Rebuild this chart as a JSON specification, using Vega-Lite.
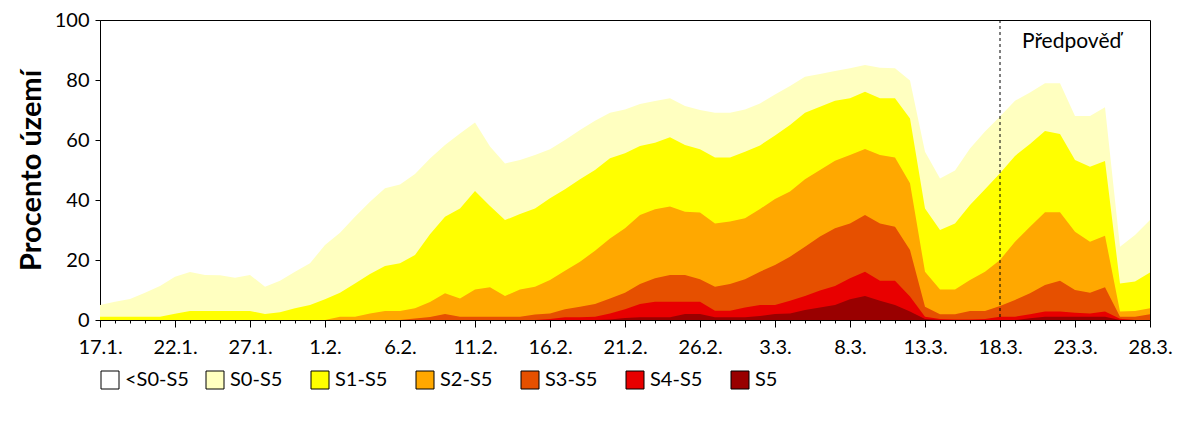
{
  "$schema": "https://vega.github.io/schema/vega-lite/v6.json",
  "autosize": "none",
  "width": 1050,
  "height": 300,
  "padding": {"left": 100, "top": 20, "right": 50, "bottom": 110},
  "background": "white",
  "config": {
    "font": "Lato",
    "view": {"stroke": "black", "strokeWidth": 1},
    "axis": {"domainColor": "black", "tickColor": "black", "labelColor": "black", "titleColor": "black", "grid": false, "labelFont": "Lato", "titleFont": "Lato"}
  },
  "layer": [
    {
      "data": {"values": [
        {"date":"2022-01-17","S0-S5":5.0,"S1-S5":1.1,"S2-S5":0,"S3-S5":0,"S4-S5":0,"S5":0},
        {"date":"2022-01-18","S0-S5":6.1,"S1-S5":1.1,"S2-S5":0,"S3-S5":0,"S4-S5":0,"S5":0},
        {"date":"2022-01-19","S0-S5":7.0,"S1-S5":1.1,"S2-S5":0,"S3-S5":0,"S4-S5":0,"S5":0},
        {"date":"2022-01-20","S0-S5":9.1,"S1-S5":1.1,"S2-S5":0,"S3-S5":0,"S4-S5":0,"S5":0},
        {"date":"2022-01-21","S0-S5":11.3,"S1-S5":1.1,"S2-S5":0,"S3-S5":0,"S4-S5":0,"S5":0},
        {"date":"2022-01-22","S0-S5":14.4,"S1-S5":2.1,"S2-S5":0,"S3-S5":0,"S4-S5":0,"S5":0},
        {"date":"2022-01-23","S0-S5":16.0,"S1-S5":3.0,"S2-S5":0,"S3-S5":0,"S4-S5":0,"S5":0},
        {"date":"2022-01-24","S0-S5":15.0,"S1-S5":3.0,"S2-S5":0,"S3-S5":0,"S4-S5":0,"S5":0},
        {"date":"2022-01-25","S0-S5":14.9,"S1-S5":3.0,"S2-S5":0,"S3-S5":0,"S4-S5":0,"S5":0},
        {"date":"2022-01-26","S0-S5":14.1,"S1-S5":3.0,"S2-S5":0,"S3-S5":0,"S4-S5":0,"S5":0},
        {"date":"2022-01-27","S0-S5":15.0,"S1-S5":3.0,"S2-S5":0,"S3-S5":0,"S4-S5":0,"S5":0},
        {"date":"2022-01-28","S0-S5":11.1,"S1-S5":2.0,"S2-S5":0,"S3-S5":0,"S4-S5":0,"S5":0},
        {"date":"2022-01-29","S0-S5":13.1,"S1-S5":2.6,"S2-S5":0,"S3-S5":0,"S4-S5":0,"S5":0},
        {"date":"2022-01-30","S0-S5":16.1,"S1-S5":3.9,"S2-S5":0,"S3-S5":0,"S4-S5":0,"S5":0},
        {"date":"2022-01-31","S0-S5":18.9,"S1-S5":5.0,"S2-S5":0,"S3-S5":0,"S4-S5":0,"S5":0},
        {"date":"2022-02-01","S0-S5":25.0,"S1-S5":6.9,"S2-S5":0,"S3-S5":0,"S4-S5":0,"S5":0},
        {"date":"2022-02-02","S0-S5":29.1,"S1-S5":9.1,"S2-S5":1.1,"S3-S5":0,"S4-S5":0,"S5":0},
        {"date":"2022-02-03","S0-S5":34.4,"S1-S5":12.2,"S2-S5":1.1,"S3-S5":0,"S4-S5":0,"S5":0},
        {"date":"2022-02-04","S0-S5":39.4,"S1-S5":15.3,"S2-S5":2.2,"S3-S5":0,"S4-S5":0,"S5":0},
        {"date":"2022-02-05","S0-S5":43.9,"S1-S5":18.0,"S2-S5":3.0,"S3-S5":0,"S4-S5":0,"S5":0},
        {"date":"2022-02-06","S0-S5":45.2,"S1-S5":18.9,"S2-S5":3.0,"S3-S5":0,"S4-S5":0,"S5":0},
        {"date":"2022-02-07","S0-S5":48.7,"S1-S5":21.7,"S2-S5":3.9,"S3-S5":0.5,"S4-S5":0,"S5":0},
        {"date":"2022-02-08","S0-S5":53.8,"S1-S5":28.6,"S2-S5":6.0,"S3-S5":1.0,"S4-S5":0,"S5":0},
        {"date":"2022-02-09","S0-S5":58.3,"S1-S5":34.4,"S2-S5":8.9,"S3-S5":2.0,"S4-S5":0,"S5":0},
        {"date":"2022-02-10","S0-S5":62.2,"S1-S5":37.2,"S2-S5":7.2,"S3-S5":1.1,"S4-S5":0,"S5":0},
        {"date":"2022-02-11","S0-S5":65.8,"S1-S5":43.0,"S2-S5":10.2,"S3-S5":1.1,"S4-S5":0,"S5":0},
        {"date":"2022-02-12","S0-S5":57.8,"S1-S5":38.0,"S2-S5":10.9,"S3-S5":1.1,"S4-S5":0,"S5":0},
        {"date":"2022-02-13","S0-S5":52.2,"S1-S5":33.3,"S2-S5":8.0,"S3-S5":1.1,"S4-S5":0,"S5":0},
        {"date":"2022-02-14","S0-S5":53.3,"S1-S5":35.3,"S2-S5":10.2,"S3-S5":1.1,"S4-S5":0,"S5":0},
        {"date":"2022-02-15","S0-S5":55.0,"S1-S5":37.2,"S2-S5":11.1,"S3-S5":1.8,"S4-S5":0,"S5":0},
        {"date":"2022-02-16","S0-S5":56.9,"S1-S5":40.6,"S2-S5":13.3,"S3-S5":2.2,"S4-S5":0.3,"S5":0},
        {"date":"2022-02-17","S0-S5":60.0,"S1-S5":43.6,"S2-S5":16.4,"S3-S5":3.6,"S4-S5":0.9,"S5":0},
        {"date":"2022-02-18","S0-S5":63.3,"S1-S5":46.9,"S2-S5":19.4,"S3-S5":4.4,"S4-S5":0.9,"S5":0},
        {"date":"2022-02-19","S0-S5":66.4,"S1-S5":50.0,"S2-S5":23.1,"S3-S5":5.3,"S4-S5":1.1,"S5":0},
        {"date":"2022-02-20","S0-S5":69.1,"S1-S5":53.9,"S2-S5":27.2,"S3-S5":7.2,"S4-S5":2.2,"S5":0.2},
        {"date":"2022-02-21","S0-S5":70.2,"S1-S5":55.6,"S2-S5":30.6,"S3-S5":9.1,"S4-S5":3.6,"S5":0.7},
        {"date":"2022-02-22","S0-S5":72.0,"S1-S5":58.0,"S2-S5":35.0,"S3-S5":12.0,"S4-S5":5.3,"S5":0.9},
        {"date":"2022-02-23","S0-S5":73.0,"S1-S5":59.1,"S2-S5":36.9,"S3-S5":13.9,"S4-S5":6.1,"S5":0.9},
        {"date":"2022-02-24","S0-S5":73.9,"S1-S5":60.9,"S2-S5":37.8,"S3-S5":15.0,"S4-S5":6.1,"S5":0.9},
        {"date":"2022-02-25","S0-S5":71.3,"S1-S5":58.3,"S2-S5":36.1,"S3-S5":15.0,"S4-S5":6.1,"S5":2.0},
        {"date":"2022-02-26","S0-S5":70.0,"S1-S5":56.9,"S2-S5":35.8,"S3-S5":13.6,"S4-S5":6.1,"S5":2.0},
        {"date":"2022-02-27","S0-S5":69.1,"S1-S5":54.2,"S2-S5":32.2,"S3-S5":11.1,"S4-S5":3.1,"S5":0.9},
        {"date":"2022-02-28","S0-S5":69.1,"S1-S5":54.2,"S2-S5":32.8,"S3-S5":12.0,"S4-S5":3.1,"S5":0.9},
        {"date":"2022-03-01","S0-S5":70.2,"S1-S5":56.1,"S2-S5":33.9,"S3-S5":13.6,"S4-S5":4.2,"S5":0.9},
        {"date":"2022-03-02","S0-S5":72.2,"S1-S5":58.2,"S2-S5":37.0,"S3-S5":16.1,"S4-S5":5.0,"S5":1.3},
        {"date":"2022-03-03","S0-S5":75.2,"S1-S5":61.5,"S2-S5":40.3,"S3-S5":18.3,"S4-S5":5.0,"S5":2.0},
        {"date":"2022-03-04","S0-S5":78.0,"S1-S5":65.0,"S2-S5":42.8,"S3-S5":21.1,"S4-S5":6.4,"S5":2.2},
        {"date":"2022-03-05","S0-S5":81.1,"S1-S5":69.1,"S2-S5":46.9,"S3-S5":24.4,"S4-S5":8.0,"S5":3.3},
        {"date":"2022-03-06","S0-S5":82.0,"S1-S5":71.1,"S2-S5":50.0,"S3-S5":27.8,"S4-S5":9.8,"S5":4.2},
        {"date":"2022-03-07","S0-S5":83.0,"S1-S5":73.1,"S2-S5":53.1,"S3-S5":30.6,"S4-S5":11.3,"S5":5.0},
        {"date":"2022-03-08","S0-S5":83.9,"S1-S5":73.9,"S2-S5":55.0,"S3-S5":32.2,"S4-S5":13.9,"S5":6.9},
        {"date":"2022-03-09","S0-S5":85.0,"S1-S5":76.1,"S2-S5":57.0,"S3-S5":35.0,"S4-S5":16.1,"S5":8.0},
        {"date":"2022-03-10","S0-S5":84.1,"S1-S5":73.9,"S2-S5":55.0,"S3-S5":32.2,"S4-S5":13.1,"S5":6.4},
        {"date":"2022-03-11","S0-S5":83.9,"S1-S5":73.9,"S2-S5":54.2,"S3-S5":31.1,"S4-S5":13.1,"S5":5.0},
        {"date":"2022-03-12","S0-S5":79.8,"S1-S5":67.2,"S2-S5":45.6,"S3-S5":23.3,"S4-S5":7.8,"S5":2.8},
        {"date":"2022-03-13","S0-S5":56.1,"S1-S5":37.2,"S2-S5":16.1,"S3-S5":4.4,"S4-S5":1.1,"S5":0.3},
        {"date":"2022-03-14","S0-S5":47.2,"S1-S5":30.0,"S2-S5":10.2,"S3-S5":1.9,"S4-S5":0.3,"S5":0},
        {"date":"2022-03-15","S0-S5":49.8,"S1-S5":32.2,"S2-S5":10.2,"S3-S5":1.9,"S4-S5":0.2,"S5":0},
        {"date":"2022-03-16","S0-S5":57.2,"S1-S5":38.3,"S2-S5":13.3,"S3-S5":3.0,"S4-S5":0.2,"S5":0},
        {"date":"2022-03-17","S0-S5":62.8,"S1-S5":43.6,"S2-S5":16.1,"S3-S5":3.0,"S4-S5":0.3,"S5":0},
        {"date":"2022-03-18","S0-S5":67.8,"S1-S5":48.9,"S2-S5":20.0,"S3-S5":4.7,"S4-S5":1.1,"S5":0},
        {"date":"2022-03-19","S0-S5":73.1,"S1-S5":54.7,"S2-S5":26.1,"S3-S5":6.7,"S4-S5":1.1,"S5":0},
        {"date":"2022-03-20","S0-S5":75.8,"S1-S5":58.7,"S2-S5":31.1,"S3-S5":8.9,"S4-S5":1.9,"S5":0.6},
        {"date":"2022-03-21","S0-S5":78.9,"S1-S5":63.0,"S2-S5":35.9,"S3-S5":11.7,"S4-S5":2.8,"S5":1.1},
        {"date":"2022-03-22","S0-S5":78.9,"S1-S5":62.0,"S2-S5":35.9,"S3-S5":13.1,"S4-S5":2.8,"S5":1.1},
        {"date":"2022-03-23","S0-S5":68.0,"S1-S5":53.3,"S2-S5":29.4,"S3-S5":10.0,"S4-S5":2.4,"S5":1.1},
        {"date":"2022-03-24","S0-S5":68.0,"S1-S5":51.1,"S2-S5":26.1,"S3-S5":9.1,"S4-S5":2.2,"S5":1.1},
        {"date":"2022-03-25","S0-S5":70.9,"S1-S5":53.0,"S2-S5":28.1,"S3-S5":10.9,"S4-S5":2.8,"S5":1.1},
        {"date":"2022-03-26","S0-S5":24.4,"S1-S5":12.2,"S2-S5":2.8,"S3-S5":1.1,"S4-S5":0.4,"S5":0},
        {"date":"2022-03-27","S0-S5":28.3,"S1-S5":12.8,"S2-S5":3.0,"S3-S5":1.1,"S4-S5":0,"S5":0},
        {"date":"2022-03-28","S0-S5":33.3,"S1-S5":15.8,"S2-S5":3.9,"S3-S5":1.9,"S4-S5":0,"S5":0}
      ]},
      "transform": [{"fold": ["S0-S5", "S1-S5", "S2-S5", "S3-S5", "S4-S5", "S5"], "as": ["cat", "value"]}],
      "mark": {"type": "area", "opacity": 1, "interpolate": "linear"},
      "encoding": {
        "x": {
          "field": "date", "type": "temporal",
          "scale": {"type": "utc", "nice": false, "domain": [{"year": 2022, "month": 1, "date": 17, "utc": true}, {"year": 2022, "month": 3, "date": 28, "utc": true}]},
          "axis": {
            "title": null,
            "tickCount": {"interval": "day", "step": 1},
            "labelExpr": "(round((toNumber(datum.value) - utc(2022,0,17)) / 86400000) % 5 == 0) ? utcFormat(datum.value, '%-d.%-m.') : ''",
            "tickSize": {"condition": {"test": "round((toNumber(datum.value) - utc(2022,0,17)) / 86400000) % 5 == 0", "value": 7}, "value": 3},
            "labelOverlap": false,
            "labelFlush": false,
            "labelFontSize": 20,
            "labelPadding": 10,
            "domainColor": "black",
            "domainWidth": 1
          }
        },
        "y": {
          "field": "value", "type": "quantitative", "stack": null,
          "scale": {"domain": [0, 100], "nice": false},
          "axis": {
            "title": "Procento území",
            "titleFontSize": 29,
            "titleFontWeight": "bold",
            "titlePadding": 8,
            "values": [0, 20, 40, 60, 80, 100],
            "tickSize": 5,
            "labelFontSize": 20,
            "labelPadding": 6
          }
        },
        "color": {
          "field": "cat", "type": "nominal",
          "scale": {
            "domain": ["<S0-S5", "S0-S5", "S1-S5", "S2-S5", "S3-S5", "S4-S5", "S5"],
            "range": ["#FFFFFF", "#FFFFC0", "#FFFF00", "#FFA800", "#E65000", "#E80000", "#990000"]
          },
          "legend": {
            "title": null,
            "orient": "none",
            "legendX": 0,
            "legendY": 350,
            "direction": "horizontal",
            "columns": 7,
            "gridAlign": "all",
            "columnPadding": 15,
            "padding": 0,
            "symbolType": "square",
            "symbolSize": 324,
            "symbolStrokeColor": "black",
            "symbolStrokeWidth": 1,
            "symbolOpacity": 1,
            "labelFontSize": 20,
            "labelFont": "Lato",
            "labelColor": "black",
            "labelOffset": 5,
            "encode": {"symbols": {"update": {"stroke": {"value": "black"}, "strokeWidth": {"value": 1}}}}
          }
        }
      }
    },
    {
      "data": {"values": [{"label": "Předpověď"}]},
      "mark": {"type": "rule", "strokeDash": [3, 3], "color": "black", "strokeWidth": 1},
      "encoding": {"x": {"datum": {"year": 2022, "month": 3, "date": 18, "utc": true}, "type": "temporal"}}
    },
    {
      "data": {"values": [{"label": "Předpověď"}]},
      "mark": {"type": "text", "align": "left", "baseline": "alphabetic", "dx": 22, "fontSize": 21, "font": "Lato", "color": "black"},
      "encoding": {
        "x": {"datum": {"year": 2022, "month": 3, "date": 18, "utc": true}, "type": "temporal"},
        "y": {"datum": 90.7, "type": "quantitative"},
        "text": {"field": "label"}
      }
    }
  ]
}
